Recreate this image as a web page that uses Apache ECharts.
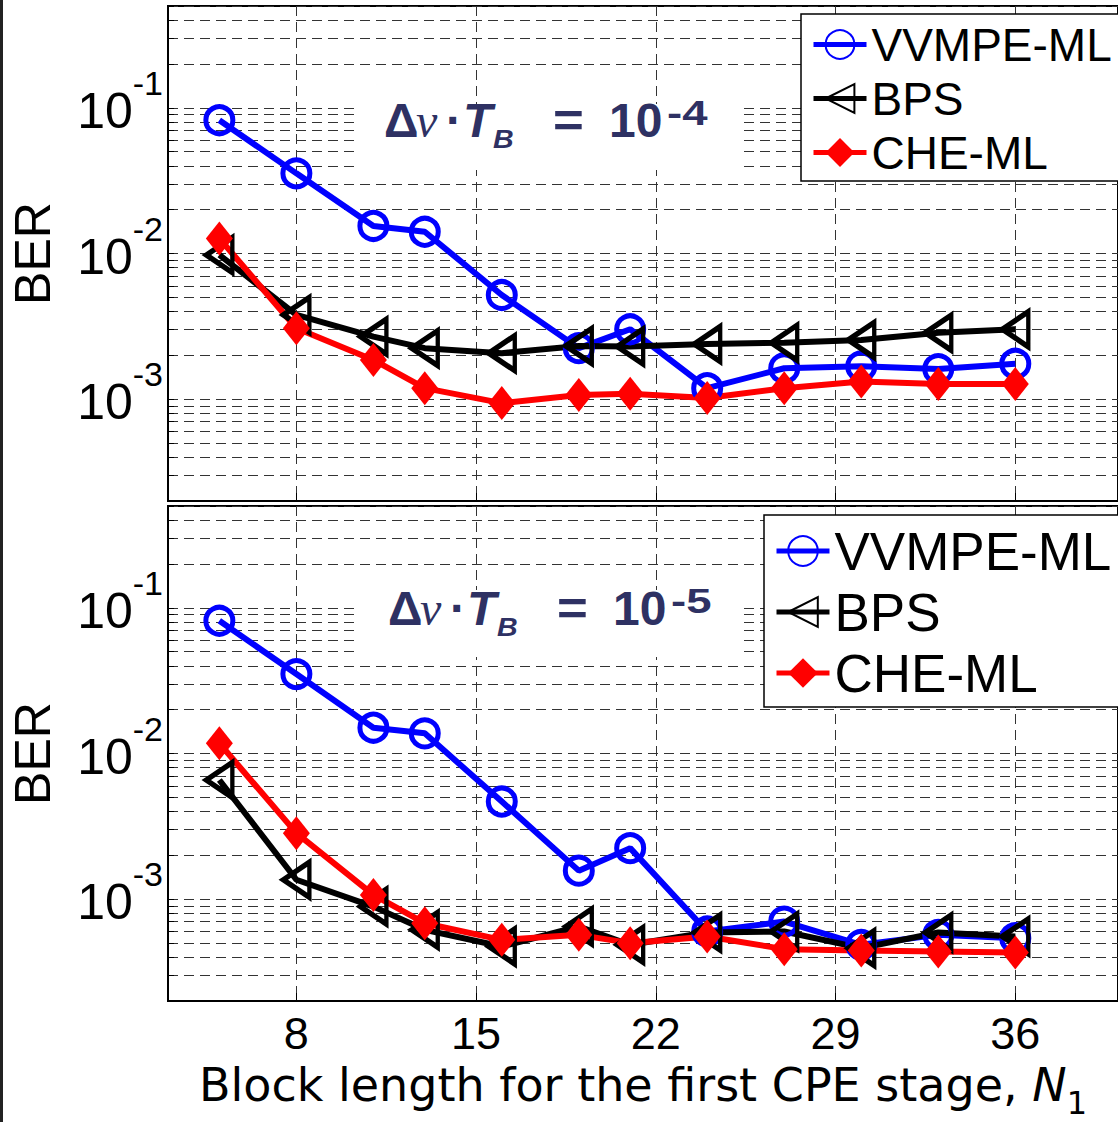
<!DOCTYPE html>
<html>
<head>
<meta charset="utf-8">
<script src="https://cdn.jsdelivr.net/npm/echarts@6/dist/echarts.min.js"></script>
<style>
  html, body { margin: 0; padding: 0; background: #fff; }
  #chart { width: 1118px; height: 1122px; }
</style>
</head>
<body>
<div id="chart"></div>
<script>
// ---------- data ----------
const seriesNames = ['VVMPE-ML', 'BPS', 'CHE-ML'];
const xValues = [5, 8, 11, 13, 16, 19, 21, 24, 27, 30, 33, 36];

// Top panel: Δν·T_B = 1e-4
const topVVMPE = [0.0822, 0.0355, 0.01545, 0.0141, 0.00519, 0.00224, 0.00302, 0.00119, 0.00163, 0.00168, 0.00161, 0.00175];
const topBPS   = [0.00977, 0.00379, 0.00269, 0.00224, 0.00207, 0.00232, 0.0023, 0.00239, 0.00244, 0.00255, 0.00286, 0.00302];
const topCHE   = [0.0127, 0.00307, 0.00186, 0.00119, 0.00094, 0.00107, 0.00109, 0.00102, 0.00119, 0.00132, 0.00127, 0.00127];

// Bottom panel: Δν·T_B = 1e-5
const botVVMPE = [0.0815, 0.0351, 0.01503, 0.01375, 0.00468, 0.00157, 0.00224, 0.0006, 0.000702, 0.000486, 0.000569, 0.00054];
const botBPS   = [0.00658, 0.00136, 0.000889, 0.000616, 0.000473, 0.000649, 0.000486, 0.00059, 0.0006, 0.000461, 0.00059, 0.000555];
const botCHE   = [0.01175, 0.00284, 0.00107, 0.000684, 0.000526, 0.000569, 0.000499, 0.000555, 0.000454, 0.000444, 0.000437, 0.000431];

const xTickValues = [8, 15, 22, 29, 36];
const yLabelValues = [0.001, 0.01, 0.1];
const annotationTop = { exp: '-4' };
const annotationBot = { exp: '-5' };
const xAxisTitle = 'Block length for the first CPE stage, ';
const yAxisTitle = 'BER';

// ---------- helpers ----------
const FONT = '"Liberation Sans", Arial, sans-serif';
const WIDEFONT = '"DejaVu Sans", Verdana, sans-serif';
const yMin = 0.0002, yMax = 0.5;
const yGridValues = [];
for (let k = -4; k <= -1; k++) {
  for (let m = 1; m <= 9; m++) {
    const v = Number((m * Math.pow(10, k)).toPrecision(3));
    if (v >= yMin && v <= yMax) yGridValues.push(v);
  }
}
const pairs = (ys) => xValues.map((x, i) => [x, ys[i]]);

const LW = 6, BW = 5;
const triPath = 'path://M0,50 L86,0 L86,100 Z';
function mkSeries(name, data, gi) {
  const base = { name, type: 'line', xAxisIndex: gi, yAxisIndex: gi, data: pairs(data), animation: false };
  if (name === 'VVMPE-ML') {
    return Object.assign(base, { symbol: 'circle', symbolSize: 27,
      lineStyle: { color: '#0000ff', width: LW },
      itemStyle: { color: 'rgba(0,0,0,0)', borderColor: '#0000ff', borderWidth: BW } });
  }
  if (name === 'BPS') {
    return Object.assign(base, { symbol: triPath, symbolSize: [26, 35],
      lineStyle: { color: '#000000', width: LW },
      itemStyle: { color: 'rgba(0,0,0,0)', borderColor: '#000000', borderWidth: BW } });
  }
  return Object.assign(base, { symbol: 'diamond', symbolSize: [27, 34],
    lineStyle: { color: '#ff0000', width: LW },
    itemStyle: { color: '#ff0000', borderWidth: 0 } });
}

function dashed() { return { type: [10, 6], color: '#333', width: 1 }; }

function mkX(gi, showLabels) {
  return {
    type: 'value', gridIndex: gi, min: 3, max: 40,
    axisLine: { show: true, onZero: false, lineStyle: { color: '#000', width: 2 } },
    axisTick: { show: true, inside: true, length: 8, customValues: xTickValues, lineStyle: { color: '#000', width: 1 } },
    axisLabel: { show: showLabels, customValues: xTickValues, margin: 10, fontSize: 45, fontFamily: FONT, color: '#000' },
    splitLine: { show: true, lineStyle: dashed() },
    name: showLabels ? xAxisTitle + '{i|N}{s|1}' : '',
    nameLocation: 'middle', nameGap: 50,
    nameTextStyle: { fontSize: 46, fontFamily: WIDEFONT, color: '#000',
      rich: { i: { fontSize: 46, fontStyle: 'italic', fontFamily: WIDEFONT, color: '#000' },
              s: { fontSize: 32, fontFamily: WIDEFONT, color: '#000', padding: [36, 0, 0, 0] } } }
  };
}
function mkY(gi) {
  return {
    type: 'log', logBase: 10, gridIndex: gi, min: yMin, max: yMax,
    axisLine: { show: true, lineStyle: { color: '#000', width: 1.5 } },
    axisTick: { show: true, inside: true, length: 6, customValues: yGridValues, lineStyle: { color: '#000', width: 1 } },
    axisLabel: { customValues: yLabelValues, margin: 5, fontFamily: FONT, color: '#000',
      formatter: (v) => '{b|10}{s|' + Math.round(Math.log10(v)) + '}',
      rich: { b: { fontSize: 50, fontFamily: FONT, color: '#000', padding: [6, 0, 0, 0] },
              s: { fontSize: 34, fontFamily: FONT, color: '#000', padding: [0, 0, 50, 0] } } },
    splitLine: { show: true, lineStyle: dashed() },
    name: yAxisTitle, nameLocation: 'middle', nameRotate: 90, nameGap: 110,
    nameTextStyle: { fontSize: 50, fontFamily: FONT, color: '#000' }
  };
}

function mkLegend(left, top, fs, padding, itemH) {
  return {
    orient: 'vertical', left, top, padding, itemGap: 7, itemWidth: 53, itemHeight: itemH,
    selectedMode: false, backgroundColor: '#fff', borderColor: '#000', borderWidth: 1.5,
    lineStyle: { width: 5 },
    textStyle: { fontSize: fs, lineHeight: fs + 1, fontFamily: FONT, color: '#000' },
    data: seriesNames
  };
}

// annotation pieces (positions are layout)
function annotation(dx, baseline, exp) {
  const col = '#2e3163';
  const t = (text, x, base, font, size, sx) => ({
    type: 'text', x, y: base - 0.35 * size, z: 20, scaleX: sx || 1,
    style: { text, font: font.replace('SZ', size + 'px'), fill: col, verticalAlign: 'middle', align: 'left' }
  });
  const bold = 'bold SZ ' + FONT;
  const bi = 'italic bold SZ ' + FONT;
  return [
    t('Δ', 384 + dx, baseline, bold, 48),
    t('ν', 416 + dx, baseline, 'italic SZ "Liberation Serif", serif', 48),
    t('·', 446 + dx, baseline, bold, 48),
    t('T', 463 + dx, baseline, bi, 48),
    t('B', 493 + dx, baseline + 11, bi, 26, 1.1),
    t('=', 553 + dx, baseline, bold, 48, 1.1),
    t('10', 609 + dx, baseline, bold, 48),
    t(exp, 667 + dx, baseline - 12, bold, 35, 1.3)
  ];
}

const chart = echarts.init(document.getElementById('chart'), null, { renderer: 'svg' });
chart.setOption({
  backgroundColor: '#fff',
  animation: false,
  grid: [
    { left: 168, top: 6, width: 957, height: 495, show: true, borderColor: '#000', borderWidth: 2 },
    { left: 168, top: 506, width: 957, height: 495, show: true, borderColor: '#000', borderWidth: 2 }
  ],
  xAxis: [mkX(0, false), mkX(1, true)],
  yAxis: [mkY(0), mkY(1)],
  legend: [
    mkLegend(801, 14, 46, [7, 8, 5, 10], 36),
    mkLegend(764, 515, 53, [9, 8, 7, 10], 37)
  ],
  series: [
    mkSeries('VVMPE-ML', topVVMPE, 0), mkSeries('BPS', topBPS, 0), mkSeries('CHE-ML', topCHE, 0),
    mkSeries('VVMPE-ML', botVVMPE, 1), mkSeries('BPS', botBPS, 1), mkSeries('CHE-ML', botCHE, 1)
  ],
  graphic: [
    { type: 'rect', z: 15, shape: { x: 0, y: 0, width: 3, height: 1122 }, style: { fill: '#222' } },
    { type: 'rect', z: 15, shape: { x: 358, y: 104, width: 380, height: 66 }, style: { fill: '#fff' } },
    { type: 'rect', z: 15, shape: { x: 358, y: 590, width: 380, height: 67 }, style: { fill: '#fff' } }
  ].concat(annotation(0, 137, annotationTop.exp), annotation(4, 625, annotationBot.exp))
});
</script>
</body>
</html>
